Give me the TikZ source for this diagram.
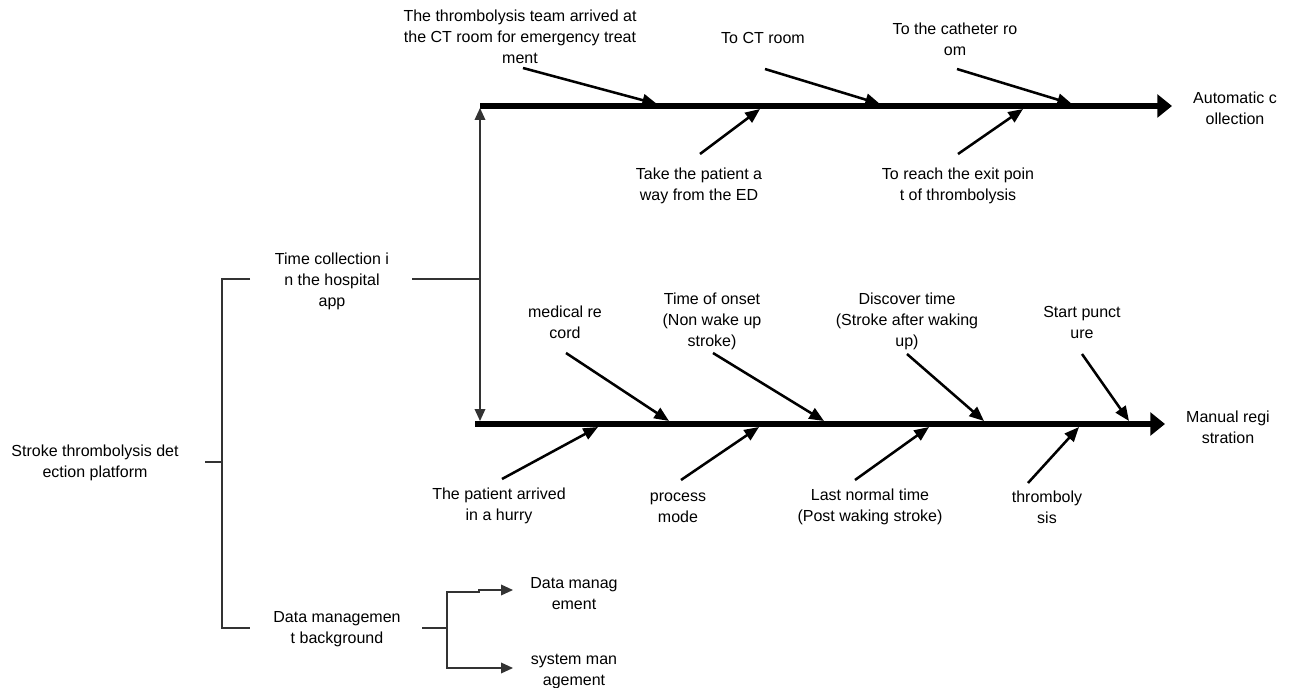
\documentclass[tikz,border=0pt]{standalone}
\usepackage{fontspec}
\setmainfont{Liberation Sans}
\usetikzlibrary{arrows.meta}
\begin{document}
\begin{tikzpicture}[x=0.75pt,y=-0.75pt,
  lbl/.style={align=center,inner sep=0pt,font=\fontsize{12}{15.75}\selectfont},
  spine/.style={line width=5.2pt,-{Triangle[length=11pt,width=17pt]}},
  bone/.style={line width=1.9pt,-{Triangle[length=11pt,width=9pt]}},
  tree/.style={draw=black!80,line width=1.1pt},
  treearrow/.style={tree,-{Triangle[length=9pt,width=8pt]}}]
\useasboundingbox (0,0) rectangle (1290,688);
% spines
\coordinate (ts) at (480,106); \coordinate (te) at (1172,106);
\coordinate (bs) at (475,424); \coordinate (be) at (1165,424);
\draw[spine] (ts) -- (te);
\draw[spine] (bs) -- (be);
\node[lbl] (auto) at (1235,108) {Automatic c\\ollection};
\node[lbl] (manual) at (1228,427) {Manual regi\\stration};
% top spine labels
\node[lbl] (t1) at (520,37) {The thrombolysis team arrived at\\the CT room for emergency treat\\ment};
\node[lbl] (t2) at (763,38) {To CT room};
\node[lbl] (t3) at (955,39) {To the catheter ro\\om};
\node[lbl] (t4) at (699,186) {Take the patient a\\way from the ED};
\node[lbl] (t5) at (958,186) {To reach the exit poin\\t of thrombolysis};
\coordinate (a1) at (523,68); \coordinate (b1) at (657,104);
\coordinate (a2) at (765,69); \coordinate (b2) at (880,104);
\coordinate (a3) at (957,69); \coordinate (b3) at (1072,104);
\coordinate (a4) at (700,154); \coordinate (b4) at (760,109);
\coordinate (a5) at (958,154); \coordinate (b5) at (1023,109);
\foreach \i in {1,...,5} \draw[bone] (a\i) -- (b\i);
% bottom spine labels
\node[lbl] (m1) at (565,322) {medical re\\cord};
\node[lbl] (m2) at (712,321) {Time of onset\\(Non wake up\\stroke)};
\node[lbl] (m3) at (907,321) {Discover time\\(Stroke after waking\\up)};
\node[lbl] (m4) at (1082,322) {Start punct\\ure};
\node[lbl] (m5) at (499,506) {The patient arrived\\in a hurry};
\node[lbl] (m6) at (678,508) {process\\mode};
\node[lbl] (m7) at (870,507) {Last normal time\\(Post waking stroke)};
\node[lbl] (m8) at (1047,507) {thromboly\\sis};
\coordinate (c1) at (566,353); \coordinate (d1) at (669,421);
\coordinate (c2) at (713,353); \coordinate (d2) at (824,421);
\coordinate (c3) at (907,354); \coordinate (d3) at (984,421);
\coordinate (c4) at (1082,354); \coordinate (d4) at (1129,421);
\coordinate (c5) at (502,479); \coordinate (d5) at (598,427);
\coordinate (c6) at (681,480); \coordinate (d6) at (759,427);
\coordinate (c7) at (855,480); \coordinate (d7) at (929,427);
\coordinate (c8) at (1028,483); \coordinate (d8) at (1079,427);
\foreach \i in {1,...,8} \draw[bone] (c\i) -- (d\i);
% left tree
\node[lbl] (root) at (95,463) {Stroke thrombolysis det\\ection platform};
\node[lbl] (time) at (332,281) {Time collection i\\n the hospital\\app};
\node[lbl] (data) at (337,629) {Data managemen\\t background};
\node[lbl] (dm) at (574,594) {Data manag\\ement};
\node[lbl] (sm) at (574,671) {system man\\agement};
\coordinate (r1) at (205,462); \coordinate (r2) at (222,462);
\coordinate (r3) at (222,279); \coordinate (r4) at (250,279);
\coordinate (r5) at (222,628); \coordinate (r6) at (250,628);
\draw[tree] (r1) -- (r2);
\draw[tree] (r4) -- (r3) -- (r5) -- (r6);
% time collection connectors
\coordinate (tc1) at (412,279); \coordinate (tcj) at (480,279);
\coordinate (tup) at (480,108); \coordinate (tdn) at (480,421);
\draw[tree] (tc1) -- (tcj);
\draw[treearrow] (tcj) -- (tup);
\draw[treearrow] (tcj) -- (tdn);
% data management connectors
\coordinate (dd1) at (422,628); \coordinate (dd2) at (447,628);
\coordinate (dd3) at (447,592); \coordinate (dd4) at (479,592);
\coordinate (dd5) at (479,590); \coordinate (dd6) at (513,590);
\coordinate (dd7) at (447,668); \coordinate (dd8) at (513,668);
\draw[tree] (dd1) -- (dd2);
\draw[treearrow] (dd2) -- (dd3) -- (dd4) -- (dd5) -- (dd6);
\draw[treearrow] (dd2) -- (dd7) -- (dd8);
\end{tikzpicture}
\end{document}
